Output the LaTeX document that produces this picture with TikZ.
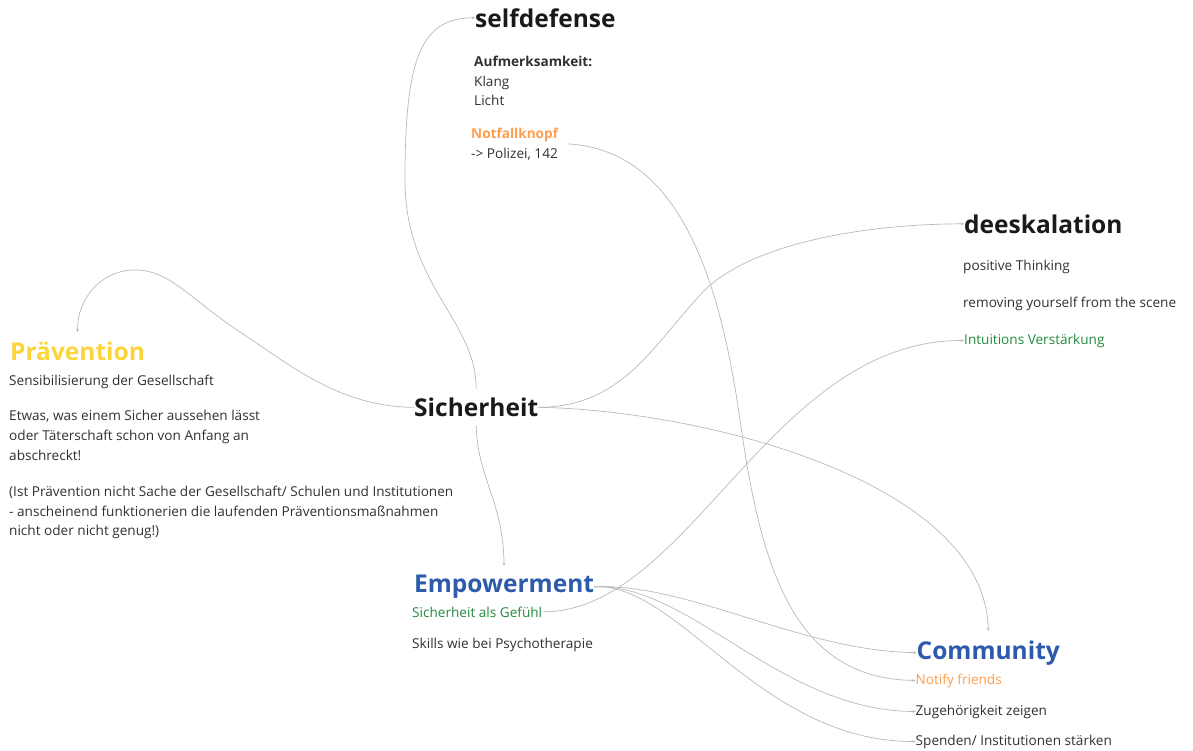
\documentclass[tikz,border=0pt]{standalone}
\usepackage{fontspec}
\setmainfont{Open Sans}
\usetikzlibrary{arrows.meta,calc}

\definecolor{linkgray}{RGB}{185,185,185}
\definecolor{inkblack}{RGB}{26,26,26}
\definecolor{notetext}{RGB}{48,48,48}
\definecolor{praevyellow}{RGB}{253,212,58}
\definecolor{notforange}{RGB}{255,158,74}
\definecolor{mapgreen}{RGB}{36,138,62}
\definecolor{mapblue}{RGB}{45,90,170}

\tikzset{
  hub/.style={font=\fontsize{24.5}{29}\selectfont\bfseries, text=inkblack, inner xsep=0pt, inner ysep=9pt, anchor=base west},
  note/.style={font=\fontsize{13.6}{19.8}\selectfont, text=notetext, inner sep=0pt, anchor=base west},
  block/.style={font=\fontsize{13.6}{19.8}\selectfont, text=notetext, inner sep=0pt, anchor=north west, align=left},
  link/.style={draw=linkgray, line width=0.7pt, -{Stealth[length=3.2pt,width=2.8pt]}},
}

\begin{document}
\begin{tikzpicture}[x=1pt,y=1pt,yscale=-1,xscale=1]
\useasboundingbox (0,0) rectangle (1193,750);

% Text Node
\node[hub] (sich) at (414,416.5) {Sicherheit};
% Text Node
\node[hub] (selfd) at (475,27) {selfdefense};
% Text Node
\node[block] (aufm) at (474,55.7) {\textbf{Aufmerksamkeit:}\\Klang\\Licht};
% Text Node
\node[block] (notf) at (471,127.7) {\textcolor{notforange}{\textbf{Notfallknopf}}\\-> Polizei, 142};

% Text Node
\node[hub] (deesk) at (964,233) {deeskalation};
% Text Node
\node[note] (posit) at (963,270) {positive Thinking};
% Text Node
\node[note] (remov) at (963,307) {removing yourself from the scene};
% Text Node
\node[note, text=mapgreen] (intu) at (964,344) {Intuitions Verstärkung};

% Text Node
\node[hub, text=praevyellow] (praev) at (10,360) {Prävention};
% Text Node
\node[note] (sensi) at (9,385) {Sensibilisierung der Gesellschaft};
% Text Node
\node[block] (etwas) at (9,410.4) {Etwas, was einem Sicher aussehen lässt\\oder Täterschaft schon von Anfang an\\abschreckt!};
% Text Node
\node[block] (frage) at (9,485.7) {(Ist Prävention nicht Sache der Gesellschaft/ Schulen und Institutionen\\- anscheinend funktionerien die laufenden Präventionsmaßnahmen\\nicht oder nicht genug!)};

% Text Node
\node[hub, text=mapblue] (empw) at (414,592.5) {Empowerment};
% Text Node
\node[note, text=mapgreen] (gef) at (412,617) {Sicherheit als Gefühl};
% Text Node
\node[note] (skill) at (412,648) {Skills wie bei Psychotherapie};

% Text Node
\node[hub, text=mapblue] (comm) at (916.5,659) {Community};
% Text Node
\node[note, text=notforange] (notify) at (915.5,684) {Notify friends};
% Text Node
\node[note] (zug) at (915.5,715) {Zugehörigkeit zeigen};
% Text Node
\node[note] (spend) at (915.5,745) {Spenden/ Institutionen stärken};

%Curves
\draw[link] (sich.north) .. controls (476,320) and (405,285) .. (405,180) .. controls (405,60) and (420,18) .. (selfd.west);
\draw[link] (sich.west) .. controls (340,407) and (290,365) .. (240,332) .. controls (190,299) and (170,270) .. (135,270) .. controls (100,270) and (77,300) .. (praev.north);
\draw[link] (sich.east) .. controls (620,407) and (650,350) .. (700,295) .. controls (745,245) and (860,224) .. (deesk.west);
\draw[link] (sich.east) .. controls (700,410) and (985,480) .. (comm.north);
\draw[link] (sich.south) .. controls (478,480) and (503,500) .. (empw.north);
%Curves
\draw[link] ($(notf.east)+(9,0)$) .. controls (680,150) and (720,280) .. (740,420) .. controls (760,560) and (790,679) .. (notify.west);
\draw[link] (gef.east) .. controls (690,612) and (770,340) .. (intu.west);
%Curves
\draw[link] (empw.east) .. controls (690,583) and (800,651) .. (comm.west);
\draw[link] (empw.east) .. controls (690,583) and (780,711) .. (zug.west);
\draw[link] (empw.east) .. controls (680,583) and (760,742) .. (spend.west);

\end{tikzpicture}
\end{document}
